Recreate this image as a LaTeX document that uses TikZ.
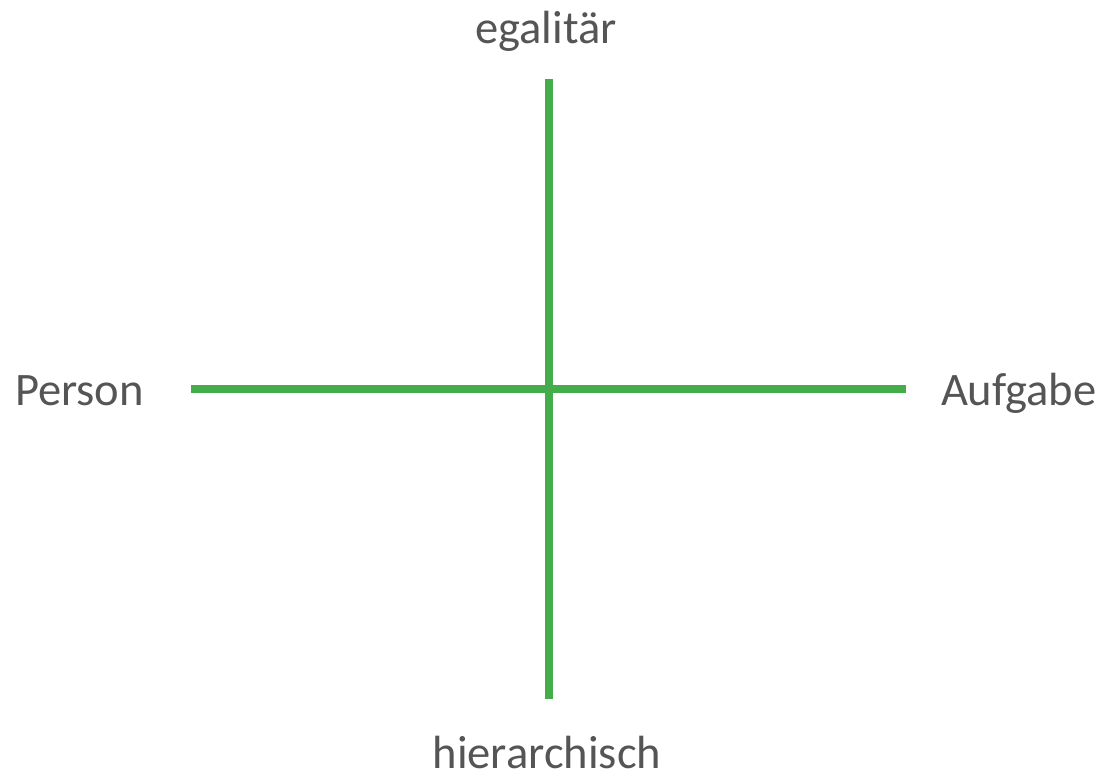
\documentclass[tikz,border=0pt]{standalone}
\usepackage{fontspec}
\setmainfont{Carlito}
\usetikzlibrary{calc}
\definecolor{axisgreen}{RGB}{68,172,73}
\definecolor{labelgray}{RGB}{85,85,85}

\begin{document}
\begin{tikzpicture}[x=0.02cm,y=-0.02cm,every node/.style={inner sep=0pt,outer sep=0pt}]

\tikzstyle{axis}=[draw=axisgreen,line width=8*0.02cm]
\tikzstyle{label}=[text=labelgray,font=\fontsize{26.5}{30}\selectfont,anchor=base]

\useasboundingbox (0,0) rectangle (1105,774);

% ends of the two axes
\coordinate (top) at (549,79);
\coordinate (bottom) at (549,699);
\coordinate (left) at (191,388.5);
\coordinate (right) at (906,388.5);

\draw [axis] (left) -- (right);
\draw [axis] (top) -- (bottom);

% axis labels
\node (egal) at (546,43) [label] {egalitär};
\node (hier) at (547,768) [label] {hierarchisch};
\node (person) at (15,405) [label,anchor=base west] {Person};
\node (aufgabe) at (941,405) [label,anchor=base west] {Aufgabe};

\end{tikzpicture}
\end{document}
